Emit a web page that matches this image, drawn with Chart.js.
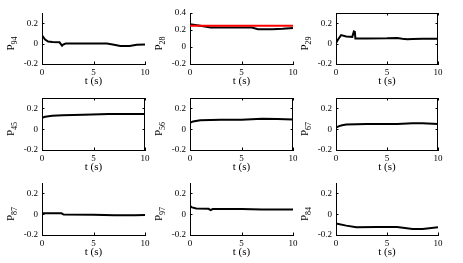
<!DOCTYPE html>
<html><head><meta charset="utf-8">
<script src="https://cdn.jsdelivr.net/npm/chart.js@4"></script>
<style>
html,body{margin:0;padding:0;background:#fff;width:463px;height:263px;overflow:hidden;}
canvas{position:absolute;}
</style></head><body>
<script>
// ---- data ----
const xTicks = [0, 5, 10];
const yTicks = [-0.2, 0, 0.2];
const yTicks28 = [-0.2, 0, 0.2, 0.4];

const t94 = [0, 0.3, 0.6, 1.0, 1.7, 1.95, 2.05, 2.3, 4, 6.3, 7, 7.6, 8.5, 9.2, 10];
const p94 = [0.08, 0.04, 0.02, 0.015, 0.013, -0.02, -0.01, 0, 0, 0, -0.012, -0.024, -0.024, -0.012, -0.01];

const t28 = [0, 0.5, 1, 2, 4, 6, 6.6, 8, 9, 10];
const p28 = [0.268, 0.26, 0.25, 0.23, 0.228, 0.228, 0.21, 0.208, 0.215, 0.225];
const t28ref = [0, 10];
const p28ref = [0.25, 0.25];

const t29 = [0, 0.2, 0.5, 1.0, 1.6, 1.75, 1.85, 1.9, 3, 5, 6, 6.5, 7, 7.5, 8.5, 10];
const p29 = [0.005, 0.04, 0.083, 0.07, 0.066, 0.12, 0.115, 0.05, 0.05, 0.052, 0.056, 0.048, 0.042, 0.046, 0.048, 0.047];

const t45 = [0, 0.3, 1, 2, 4, 6.5, 8, 10];
const p45 = [0.11, 0.12, 0.13, 0.135, 0.14, 0.145, 0.145, 0.145];

const t56 = [0, 0.3, 1, 3, 5, 7, 8.5, 10];
const p56 = [0.06, 0.075, 0.085, 0.09, 0.092, 0.1, 0.098, 0.093];

const t67 = [0, 0.3, 0.6, 1, 3, 6, 7.5, 8.5, 10];
const p67 = [0.015, 0.03, 0.038, 0.045, 0.05, 0.05, 0.057, 0.057, 0.05];

const t87 = [0, 1.9, 2.1, 5, 7, 9, 10];
const p87 = [0.008, 0.008, -0.004, -0.005, -0.01, -0.01, -0.008];

const t97 = [0, 0.2, 0.6, 1.8, 2, 2.2, 5, 7, 10];
const p97 = [0.08, 0.065, 0.055, 0.052, 0.04, 0.05, 0.05, 0.045, 0.045];

const t84 = [0, 1, 2, 4, 6, 7.5, 8.5, 10];
const p84 = [-0.088, -0.11, -0.126, -0.124, -0.122, -0.142, -0.142, -0.126];

// ---- layout ----
const FONT = "'Liberation Serif', 'Times New Roman', serif";
const cols = [{left: 42, w: 103}, {left: 190, w: 103}, {left: 336, w: 102}];
const rows = [{top: 13, h: 51}, {top: 98, h: 52}, {top: 183, h: 52}];
const PADT = 10, PADR = 14, YW = 42, XH = 32;

const panels = [
  {sub: '94', ymax: 0.3, yt: yTicks, box: false, series: [{t: t94, v: p94, c: '#000'}]},
  {sub: '28', ymax: 0.4, yt: yTicks28, box: false, series: [{t: t28ref, v: p28ref, c: '#ff0000'}, {t: t28, v: p28, c: '#000'}]},
  {sub: '29', ymax: 0.3, yt: yTicks, box: true, series: [{t: t29, v: p29, c: '#000'}]},
  {sub: '45', ymax: 0.3, yt: yTicks, box: true, series: [{t: t45, v: p45, c: '#000'}]},
  {sub: '56', ymax: 0.3, yt: yTicks, box: true, series: [{t: t56, v: p56, c: '#000'}]},
  {sub: '67', ymax: 0.3, yt: yTicks, box: true, series: [{t: t67, v: p67, c: '#000'}]},
  {sub: '87', ymax: 0.3, yt: yTicks, box: false, series: [{t: t87, v: p87, c: '#000'}]},
  {sub: '97', ymax: 0.3, yt: yTicks, box: false, series: [{t: t97, v: p97, c: '#000'}]},
  {sub: '84', ymax: 0.3, yt: yTicks, box: false, series: [{t: t84, v: p84, c: '#000'}]}
];

const mplPlugin = {
  id: 'mpl',
  afterDraw(chart, args, opts) {
    const ctx = chart.ctx, a = chart.chartArea;
    const xs = chart.scales.x, ys = chart.scales.y;
    const L = 2.5;
    ctx.save();
    ctx.strokeStyle = '#000';
    ctx.lineWidth = 1;
    ctx.beginPath();
    xs.ticks.forEach(t => {
      const px = Math.round(xs.getPixelForValue(t.value)) + 0.5;
      ctx.moveTo(px, a.bottom); ctx.lineTo(px, a.bottom - L);
      if (opts.box) { ctx.moveTo(px, a.top); ctx.lineTo(px, a.top + L); }
    });
    ys.ticks.forEach(t => {
      const py = Math.round(ys.getPixelForValue(t.value)) + 0.5;
      ctx.moveTo(a.left, py); ctx.lineTo(a.left + L, py);
      if (opts.box) { ctx.moveTo(a.right, py); ctx.lineTo(a.right - L, py); }
    });
    if (opts.box) {
      ctx.moveTo(a.left, Math.round(a.top) + 0.5); ctx.lineTo(a.right, Math.round(a.top) + 0.5);
      ctx.moveTo(Math.round(a.right) - 0.5, a.top); ctx.lineTo(Math.round(a.right) - 0.5, a.bottom);
    }
    ctx.stroke();
    // y label with subscript
    ctx.fillStyle = '#000';
    ctx.translate(a.left - 28, (a.top + a.bottom) / 2 + 5);
    ctx.rotate(-Math.PI / 2);
    ctx.textBaseline = 'alphabetic';
    ctx.textAlign = 'left';
    ctx.font = '11px ' + FONT;
    const wP = ctx.measureText('P').width;
    ctx.font = '8px ' + FONT;
    const wS = ctx.measureText(opts.sub).width;
    const x0 = -(wP + wS) / 2;
    ctx.font = '11px ' + FONT;
    ctx.fillText('P', x0, 0);
    ctx.font = '8px ' + FONT;
    ctx.fillText(opts.sub, x0 + wP, 3);
    ctx.restore();
  }
};

const fmt = v => String(Math.round(v * 10) / 10);

panels.forEach((p, i) => {
  const col = cols[i % 3], row = rows[Math.floor(i / 3)];
  const cv = document.createElement('canvas');
  const W = col.w + YW + PADR, H = row.h + PADT + XH;
  cv.width = W; cv.height = H;
  cv.style.width = W + 'px'; cv.style.height = H + 'px';
  cv.style.left = (col.left - YW) + 'px';
  cv.style.top = (row.top - PADT) + 'px';
  document.body.appendChild(cv);
  new Chart(cv, {
    type: 'line',
    data: {
      datasets: p.series.map(s => ({
        data: s.t.map((x, k) => ({x: x, y: s.v[k]})),
        borderColor: s.c, borderWidth: 2, pointRadius: 0, tension: 0, fill: false
      }))
    },
    options: {
      responsive: false, animation: false,
      layout: {padding: {top: PADT, right: PADR, left: 0, bottom: 0}},
      plugins: {legend: {display: false}, tooltip: {enabled: false}, mpl: {box: p.box, sub: p.sub}},
      scales: {
        x: {
          type: 'linear', min: 0, max: 10,
          afterBuildTicks: s => { s.ticks = xTicks.map(v => ({value: v})); },
          afterFit: s => { s.height = XH; },
          grid: {display: false, drawTicks: false, tickLength: 0},
          border: {display: true, color: '#000', width: 1},
          ticks: {color: '#000', font: {family: FONT, size: 9}, padding: 3, maxRotation: 0, autoSkip: false},
          title: {display: true, text: 't (s)', color: '#000', font: {family: FONT, size: 11}, padding: {top: 0, bottom: 8}}
        },
        y: {
          type: 'linear', min: -0.2, max: p.ymax,
          afterBuildTicks: s => { s.ticks = p.yt.map(v => ({value: v})); },
          afterFit: s => { s.width = YW; },
          grid: {display: false, drawTicks: false, tickLength: 0},
          border: {display: true, color: '#000', width: 1},
          ticks: {color: '#000', font: {family: FONT, size: 9}, padding: 4, callback: v => fmt(v)}
        }
      }
    },
    plugins: [mplPlugin]
  });
});
</script>
</body></html>
